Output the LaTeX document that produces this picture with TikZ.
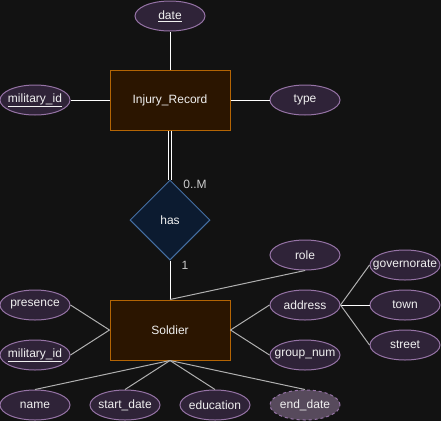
\documentclass[tikz,border=0pt]{standalone}
\usepackage{fontspec}
\setmainfont{Liberation Sans}
\usetikzlibrary{shapes.geometric}

\definecolor{canvasbg}{HTML}{121212}
\definecolor{entfill}{HTML}{2B1500}
\definecolor{entline}{HTML}{B46504}
\definecolor{attrfill}{HTML}{2F2338}
\definecolor{attrline}{HTML}{9673A6}
\definecolor{derfill}{HTML}{574A5C}
\definecolor{relfill}{HTML}{0C1B30}
\definecolor{relline}{HTML}{456FA3}
\definecolor{linkgray}{HTML}{B0B0B0}

\begin{document}
\begin{tikzpicture}[
  x=1pt, y=-1pt,
  every node/.style={font=\fontsize{12}{14}\selectfont, text=white!94!black},
  entity/.style={draw=entline, fill=entfill, line width=1pt, minimum width=120pt, minimum height=60pt, inner sep=0pt},
  attr/.style={ellipse, draw=attrline, fill=attrfill, line width=1pt, minimum width=70pt, minimum height=30pt, inner xsep=-15pt, inner ysep=0pt},
  derived/.style={attr, fill=derfill, dashed},
  rel/.style={diamond, draw=relline, fill=relfill, line width=1pt, minimum width=80pt, minimum height=80pt, inner sep=0pt},
  link/.style={draw=linkgray, line width=1pt},
  wlink/.style={draw=white, line width=1pt},
  card/.style={text=white!80!black},
]

% === CANVAS ===
\fill[canvasbg] (0,0) rectangle (441,421);
\useasboundingbox (0,0) rectangle (441,421);

% === INJURY RECORD ===
\node[entity] (injury) at (170,100) {Injury\_Record};
\node[attr] (date) at (170,16) {\underline{date}};
\node[attr] (type) at (305,100) {type};
\node[attr] (injid) at (35,100) {\underline{military\_id}};

\draw[wlink] (injury.north) -- (date.south);
\draw[wlink] (injury.east) -- (type.west);
\draw[wlink] (injury.west) -- (injid.east);

% === RELATIONSHIP ===
\node[rel] (has) at (170,220) {has};
\node[card] (cardm) at (195,184) {0..M};
\node[card] (cardone) at (185,265) {1};

\draw[draw=white, line width=1pt, double=canvasbg, double distance=1.5pt] (injury.south) -- (has.north);

% === SOLDIER ===
\node[entity] (soldier) at (170,330) {Soldier};
\node[attr] (role) at (305,255) {role};
\node[attr] (presence) at (35,305) {presence};
\node[attr] (milid) at (35,355) {\underline{military\_id}};
\node[attr] (address) at (305,305) {address};
\node[attr] (groupnum) at (305,355) {group\_num};
\node[attr] (governorate) at (405,265) {governorate};
\node[attr] (town) at (405,305) {town};
\node[attr] (street) at (405,345) {street};
\node[attr] (name) at (35,405) {name};
\node[attr] (startdate) at (125,405) {start\_date};
\node[attr] (education) at (215,405) {education};
\node[derived] (enddate) at (305,405) {end\_date};

\draw[wlink] (has.south) -- (soldier.north);
\draw[link] (soldier.north) -- (role.south);
\draw[link] (soldier.west) -- (presence.east);
\draw[link] (soldier.west) -- (milid.east);
\draw[link] (soldier.east) -- (address.west);
\draw[link] (soldier.east) -- (groupnum.west);
\draw[link] (address.east) -- (governorate.west);
\draw[wlink] (address.east) -- (town.west);
\draw[link] (address.east) -- (street.west);
\foreach \a in {name,startdate,education,enddate}
  \draw[link] (soldier.south) -- (\a.north);

\end{tikzpicture}
\end{document}
